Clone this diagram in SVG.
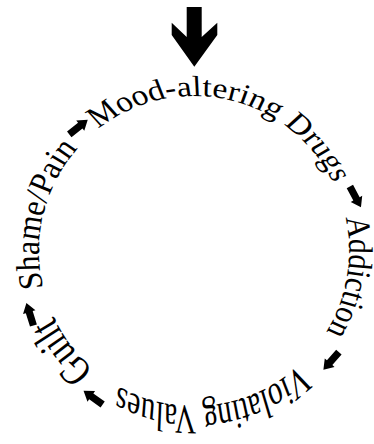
<svg xmlns="http://www.w3.org/2000/svg" xmlns:xlink="http://www.w3.org/1999/xlink" width="374" height="444" viewBox="0 0 374 444">
<style>
.lbl{font-family:"Liberation Serif","Times New Roman",serif;fill:#000;text-anchor:middle}
.arr{fill:#000}
</style>
<defs>
<path id="r-mood" d="M0,182.4 A155,182.4 0 1 1 0,-182.4 A155,182.4 0 1 1 0,182.4"/>
<path id="r-add" d="M0,134.8 A155,134.8 0 1 1 0,-134.8 A155,134.8 0 1 1 0,134.8"/>
<path id="r-vio" d="M0,106.9 A155,106.9 0 1 1 0,-106.9 A155,106.9 0 1 1 0,106.9"/>
<path id="r-guilt" d="M0,119.2 A155,119.2 0 1 1 0,-119.2 A155,119.2 0 1 1 0,119.2"/>
<path id="r-shame" d="M0,140.9 A155,140.9 0 1 1 0,-140.9 A155,140.9 0 1 1 0,140.9"/>
<path id="sa" d="M-11.5,-3.6 L2.5,-3.6 L2.5,-6.5 L12,0 L2.5,6.5 L2.5,3.6 L-11.5,3.6 Z"/>
</defs>
<rect width="374" height="444" fill="#fff"/>
<g id="start-arrow"><polygon class="arr" points="186.7,7 201.7,7 201.7,37 217.3,22.7 217.3,35 194.3,66.7 171.7,35 171.7,22.7 186.7,37"/></g>
<g id="mood"><text class="lbl" font-size="33.9" transform="translate(194,251) rotate(12.9) scale(1,0.85)"><textPath xlink:href="#r-mood" href="#r-mood" startOffset="50%">Mood-altering Drugs</textPath></text></g>
<g id="addiction"><text class="lbl" font-size="29.7" transform="translate(194,251) rotate(99.5) scale(1,1.15)"><textPath xlink:href="#r-add" href="#r-add" startOffset="50%">Addiction</textPath></text></g>
<g id="violating"><text class="lbl" font-size="29" transform="translate(194,251) rotate(172.7) scale(1,1.45)"><textPath xlink:href="#r-vio" href="#r-vio" startOffset="50%">Violating Values</textPath></text></g>
<g id="guilt"><text class="lbl" font-size="33" transform="translate(194,251) rotate(232.6) scale(1,1.3)"><textPath xlink:href="#r-guilt" href="#r-guilt" startOffset="50%">Guilt</textPath></text></g>
<g id="shame"><text class="lbl" font-size="31.2" transform="translate(194,251) rotate(283.8) scale(1,1.1)"><textPath xlink:href="#r-shame" href="#r-shame" startOffset="50%">Shame/Pain</textPath></text></g>
<g id="connectors">
<use href="#sa" class="arr" transform="translate(78.3,127.2) rotate(-38.1)"/>
<use href="#sa" class="arr" transform="translate(355.3,196.7) rotate(61.8)"/>
<use href="#sa" class="arr" transform="translate(331.3,360.8) rotate(131.2)"/>
<use href="#sa" class="arr" transform="translate(93.3,397.8) rotate(215.6)"/>
<use href="#sa" class="arr" transform="translate(30,314.5) rotate(252.6)"/>
</g>
</svg>
